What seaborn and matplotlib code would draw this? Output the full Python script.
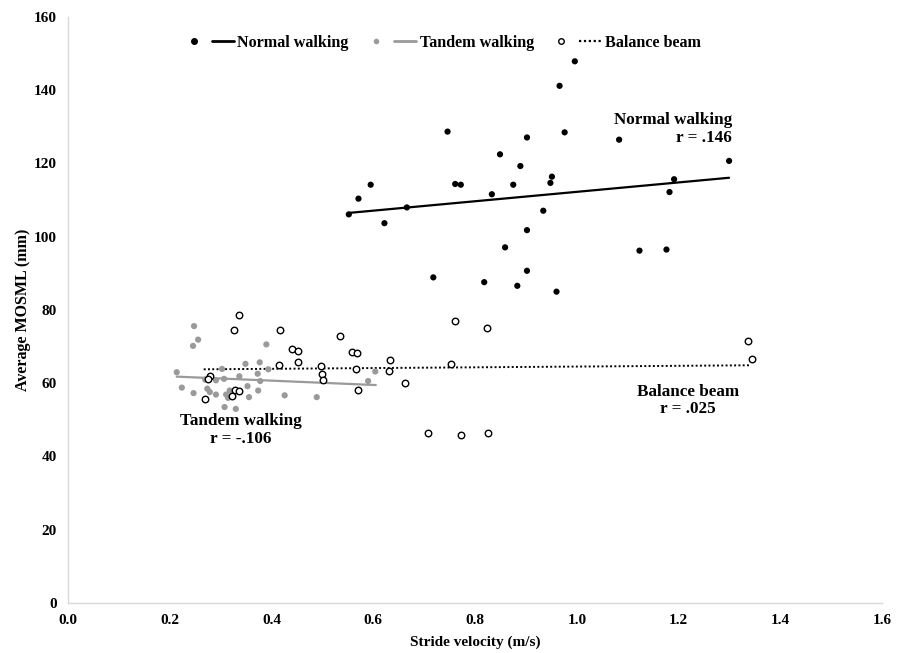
import matplotlib
matplotlib.use("Agg")
import matplotlib.pyplot as plt
import seaborn as sns
import pandas as pd
from matplotlib.lines import Line2D
from matplotlib.legend_handler import HandlerTuple

# ---- data ----
normal_x = [0.552, 0.571, 0.595, 0.622, 0.666, 0.718, 0.746, 0.761, 0.772, 0.818,
            0.833, 0.849, 0.859, 0.875, 0.883, 0.889, 0.902, 0.902, 0.902, 0.934,
            0.948, 0.951, 0.960, 0.966, 0.976, 0.996, 1.083, 1.123, 1.176, 1.182,
            1.191, 1.299]
normal_y = [106.1, 110.4, 114.2, 103.7, 108.0, 88.9, 128.7, 114.4, 114.2, 87.6,
            111.6, 122.5, 97.1, 114.2, 86.6, 119.3, 127.1, 101.8, 90.7, 107.1,
            114.7, 116.4, 85.0, 141.2, 128.5, 147.9, 126.5, 96.2, 96.5, 112.2,
            115.7, 120.7]

tandem_x = [0.214, 0.248, 0.256, 0.246, 0.224, 0.247, 0.274, 0.279, 0.291, 0.270,
            0.291, 0.303, 0.307, 0.311, 0.315, 0.318, 0.308, 0.330, 0.337, 0.349,
            0.353, 0.356, 0.373, 0.377, 0.374, 0.378, 0.390, 0.394, 0.426, 0.489,
            0.590, 0.604]
tandem_y = [63.0, 75.6, 71.9, 70.2, 58.8, 57.3, 58.5, 57.6, 56.9, 61.0,
            60.8, 63.9, 61.2, 56.9, 56.0, 58.0, 53.5, 53.0, 61.9, 65.3,
            59.2, 56.2, 62.6, 65.7, 58.0, 60.6, 70.6, 63.8, 56.7, 56.2,
            60.6, 63.2]

beam_x = [0.336, 0.326, 0.416, 0.535, 0.440, 0.453, 0.558, 0.568, 0.453, 0.414,
          0.498, 0.567, 0.633, 0.631, 0.499, 0.502, 0.279, 0.276, 0.269, 0.328,
          0.337, 0.322, 0.571, 0.662, 0.708, 0.761, 0.824, 0.752, 0.772, 0.826,
          1.336, 1.344]
beam_y = [78.5, 74.5, 74.4, 72.8, 69.4, 68.7, 68.5, 68.3, 65.7, 65.0,
          64.6, 63.9, 66.4, 63.4, 62.4, 60.9, 61.9, 61.2, 55.6, 58.2,
          57.8, 56.6, 58.1, 60.0, 46.4, 77.0, 75.2, 65.3, 46.0, 46.3,
          71.4, 66.5]

# trend lines (endpoints)
normal_fit_x = [0.552, 1.299]
normal_fit_y = [106.5, 116.1]
tandem_fit_x = [0.214, 0.605]
tandem_fit_y = [61.8, 59.5]
beam_fit_x = [0.267, 1.341]
beam_fit_y = [63.8, 64.9]

series_names = ["Normal walking", "Tandem walking", "Balance beam"]
r_labels = ["r = .146", "r = -.106", "r = .025"]
x_ticks = [0.0, 0.2, 0.4, 0.6, 0.8, 1.0, 1.2, 1.4, 1.6]
y_ticks = [0, 20, 40, 60, 80, 100, 120, 140, 160]

# ---- style ----
sns.set_theme(style="white")
plt.rcParams["font.family"] = ["Liberation Serif", "DejaVu Serif"]
plt.rcParams["font.weight"] = "bold"
plt.rcParams["text.color"] = "black"
plt.rcParams["axes.labelcolor"] = "black"
plt.rcParams["xtick.color"] = "black"
plt.rcParams["ytick.color"] = "black"

fig = plt.figure(figsize=(9.04, 6.53), dpi=100)
ax = fig.add_axes([0.075, 0.0766, 0.901, 0.8974])

gray = "#9a9a9a"
sns.lineplot(x=normal_fit_x, y=normal_fit_y, ax=ax, color="black", lw=1.6)
sns.lineplot(x=tandem_fit_x, y=tandem_fit_y, ax=ax, color=gray, lw=1.6)
sns.lineplot(x=beam_fit_x, y=beam_fit_y, ax=ax, color="black", lw=1.4,
             linestyle=(0, (1, 1.2)))

sns.scatterplot(x=normal_x, y=normal_y, ax=ax, color="black", s=20,
                edgecolor="none", zorder=3)
sns.scatterplot(x=tandem_x, y=tandem_y, ax=ax, color=gray, s=20,
                edgecolor="none", zorder=3)
sns.scatterplot(x=beam_x, y=beam_y, ax=ax, facecolor="white", s=22,
                edgecolor="black", linewidth=1.0, zorder=4)

ax.set_xlim(0, 1.6)
ax.set_ylim(0, 160)
ax.set_xticks(x_ticks)
ax.set_xticklabels([f"{v:.1f}" for v in x_ticks])
ax.set_yticks(y_ticks)
ax.set_yticklabels([str(v) for v in y_ticks])
ax.tick_params(axis="both", length=0, labelsize=11, pad=8, colors="black")
for lab in ax.get_xticklabels() + ax.get_yticklabels():
    lab.set_fontweight("bold")

for side in ["top", "right"]:
    ax.spines[side].set_visible(False)
for side in ["left", "bottom"]:
    ax.spines[side].set_color("#d9d9d9")
    ax.spines[side].set_linewidth(1.0)

ax.set_xlabel("Stride velocity (m/s)", fontsize=11, fontweight="bold", labelpad=6,
              color="black")
ax.set_ylabel("Average MOSML (mm)", fontsize=11.5, fontweight="bold", labelpad=2,
              color="black")

# annotations
ax.text(1.305, 129.5, f"{series_names[0]}\n{r_labels[0]}", ha="right", va="center",
        fontsize=12.3, fontweight="bold", multialignment="right", linespacing=1.15,
        color="black")
ax.text(0.34, 47.2, f"{series_names[1]}\n{r_labels[1]}", ha="center", va="center",
        fontsize=12.3, fontweight="bold", multialignment="center", linespacing=1.15,
        color="black")
ax.text(1.218, 55.3, f"{series_names[2]}\n{r_labels[2]}", ha="center", va="center",
        fontsize=12.3, fontweight="bold", multialignment="center", linespacing=1.15,
        color="black")

# legend
h1 = (Line2D([], [], marker="o", color="black", ls="none", markersize=4),
      Line2D([], [], color="black", lw=2))
h2 = (Line2D([], [], marker="o", color=gray, ls="none", markersize=4,
             markeredgecolor="none"),
      Line2D([], [], color=gray, lw=2))
h3 = (Line2D([], [], marker="o", markerfacecolor="white", markeredgecolor="black",
             ls="none", markersize=4, markeredgewidth=1),
      Line2D([], [], color="black", lw=1.6, linestyle=(0, (1, 1.2))))
leg = ax.legend([h1, h2, h3], series_names,
                handler_map={tuple: HandlerTuple(ndivide=None, pad=0.4)},
                loc="center", bbox_to_anchor=(0.459, 0.956), ncol=3, frameon=False,
                handlelength=3.2, handletextpad=0.2, columnspacing=1.0,
                prop={"size": 11.6, "weight": "bold"})
for t in leg.get_texts():
    t.set_color("black")

fig.savefig("out.png", dpi=100)
